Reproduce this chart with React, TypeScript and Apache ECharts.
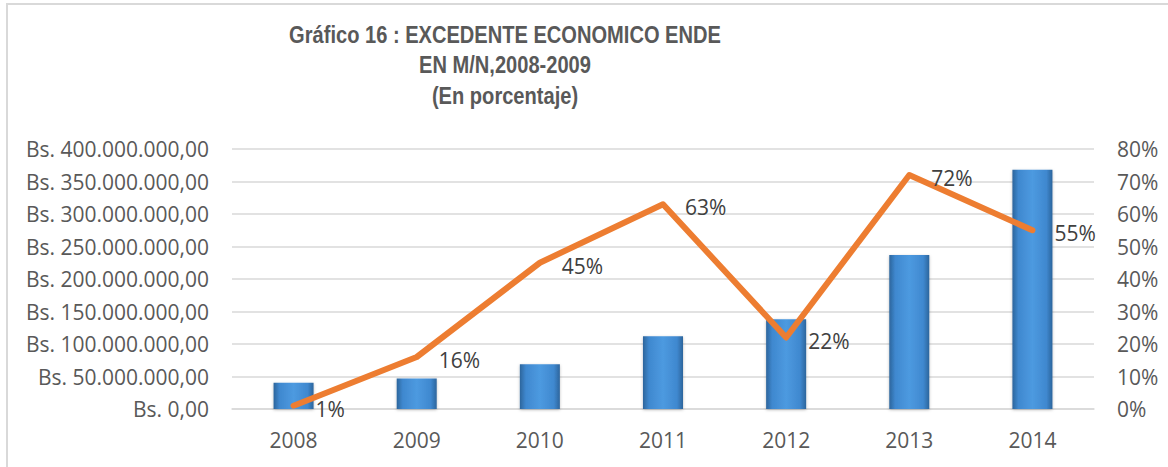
import React, { useEffect, useRef } from "react";
import * as echarts from "echarts";

const categories = ["2008", "2009", "2010", "2011", "2012", "2013", "2014"];
const excedente = [40500000, 47000000, 69000000, 112000000, 138000000, 237000000, 368000000];
const porcentaje = [1, 16, 45, 63, 22, 72, 55];
const titleLines = [
  "Gráfico 16 : EXCEDENTE ECONOMICO ENDE",
  "EN M/N,2008-2009",
  "(En porcentaje)",
];

const FONT = "'Open Sans', Lato, sans-serif";
const FS = 21;

function fmtBs(v: number): string {
  const int = Math.round(v).toString().replace(/\B(?=(\d{3})+(?!\d))/g, ".");
  return "Bs. " + int + ",00";
}

export default function App() {
  const ref = useRef<HTMLDivElement>(null);
  useEffect(() => {
    if (!ref.current) return;
    const chart = echarts.init(ref.current, undefined, { renderer: "svg" });
    const titleY = [35, 64.5, 95.5];
    chart.setOption({
      animation: false,
      backgroundColor: "#ffffff",
      graphic: [
        {
          type: "rect",
          shape: { x: 7, y: 4, width: 1300, height: 600 },
          style: { fill: "none", stroke: "#d9d9d9", lineWidth: 2 },
          silent: true,
        },
        ...titleLines.map((t, i) => ({
          type: "text",
          x: 505,
          y: titleY[i],
          scaleX: 0.82,
          style: {
            text: t,
            fontFamily: "'Liberation Sans', Arial, sans-serif",
            fontWeight: "bold",
            fontSize: 24.5,
            fill: "#595959",
            align: "center",
            verticalAlign: "middle",
          },
        })),
      ],
      grid: { left: 232, right: 74, top: 149, bottom: 58, containLabel: false },
      xAxis: {
        type: "category",
        data: categories,
        axisLine: { show: true, lineStyle: { color: "#d9d9d9", width: 1.5 } },
        axisTick: { show: false },
        axisLabel: { color: "#595959", fontSize: FS, fontFamily: FONT, margin: 20 },
      },
      yAxis: [
        {
          type: "value",
          min: 0,
          max: 400000000,
          interval: 50000000,
          axisLine: { show: false },
          axisTick: { show: false },
          splitLine: { lineStyle: { color: "#d9d9d9", width: 1.5 } },
          axisLabel: {
            color: "#595959",
            fontSize: FS,
            fontFamily: FONT,
            margin: 23,
            formatter: (v: number) => fmtBs(v),
          },
        },
        {
          type: "value",
          min: 0,
          max: 80,
          interval: 10,
          position: "right",
          axisLine: { show: false },
          axisTick: { show: false },
          splitLine: { show: false },
          axisLabel: {
            color: "#595959",
            fontSize: FS,
            fontFamily: FONT,
            margin: 23,
            formatter: "{value}%",
          },
        },
      ],
      series: [
        {
          type: "bar",
          data: excedente,
          yAxisIndex: 0,
          barWidth: "32.5%",
          itemStyle: {
            color: new echarts.graphic.LinearGradient(0, 0, 1, 0, [
              { offset: 0, color: "#2c659c" },
              { offset: 0.15, color: "#3f88cf" },
              { offset: 0.5, color: "#4d9ae0" },
              { offset: 0.85, color: "#3f88cf" },
              { offset: 1, color: "#2c659c" },
            ]),
            shadowColor: "rgba(0,0,0,0.25)",
            shadowBlur: 3,
            shadowOffsetY: 1,
          },
        },
        {
          type: "line",
          data: porcentaje,
          yAxisIndex: 1,
          symbol: "circle",
          symbolSize: 2,
          showSymbol: true,
          lineStyle: { color: "#ed7d31", width: 6, cap: "round", join: "round" },
          itemStyle: { color: "#ed7d31" },
          label: {
            show: true,
            position: "right",
            distance: 21,
            offset: [0, 3],
            formatter: "{c}%",
            color: "#404040",
            fontSize: FS,
            fontFamily: FONT,
          },
        },
      ],
    });
    return () => chart.dispose();
  }, []);
  return (
    <div
      ref={ref}
      style={{ position: "fixed", left: 0, top: 0, width: 1168, height: 467 }}
    />
  );
}
